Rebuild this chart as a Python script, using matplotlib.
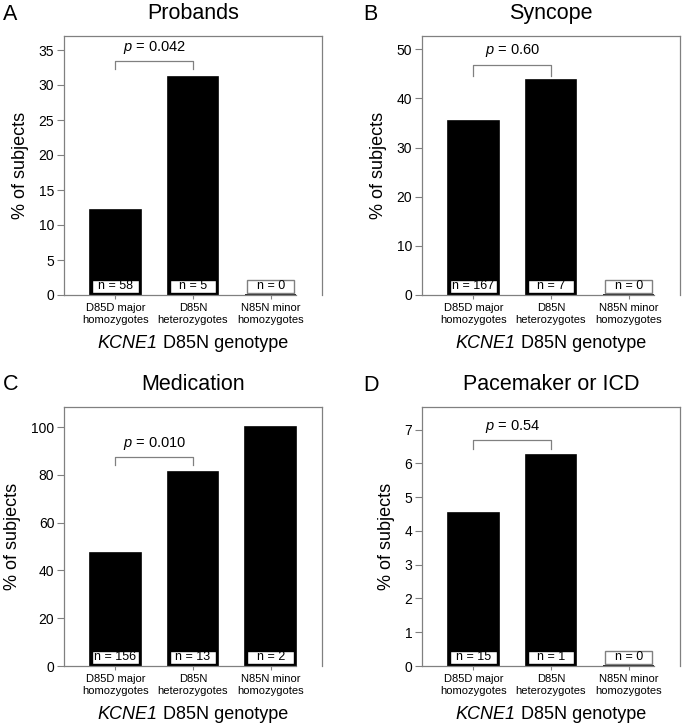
import matplotlib
matplotlib.use('Agg')
import matplotlib.pyplot as plt
from matplotlib.patches import Rectangle
import matplotlib.transforms as mtransforms

plt.rcParams['font.family'] = ['Liberation Sans', 'DejaVu Sans']
plt.rcParams['mathtext.fontset'] = 'custom'
plt.rcParams['mathtext.rm'] = 'Liberation Sans'
plt.rcParams['mathtext.it'] = 'Liberation Sans:italic'

GRAY = '#808080'

categories = ['D85D major\nhomozygotes', 'D85N\nheterozygotes', 'N85N minor\nhomozygotes']

titles = ['Probands', 'Syncope', 'Medication', 'Pacemaker or ICD']
letters = ['A', 'B', 'C', 'D']

probands = [12.1, 31.2, 0]
syncope = [35.5, 43.8, 0]
medication = [47.3, 81.1, 100]
pacemaker = [4.52, 6.25, 0]

n_probands = [58, 5, 0]
n_syncope = [167, 7, 0]
n_medication = [156, 13, 2]
n_pacemaker = [15, 1, 0]

p_values = ['0.042', '0.60', '0.010', '0.54']
# bracket top / bracket end heights (data units)
bracket_top = [33.4, 46.8, 87.4, 6.68]
bracket_end = [32.3, 44.6, 84.2, 6.44]

y_max = [37, 52.7, 108.4, 7.67]
y_step = [5, 10, 20, 1]
y_last = [35, 50, 100, 7]

values = [probands, syncope, medication, pacemaker]
counts = [n_probands, n_syncope, n_medication, n_pacemaker]

fig = plt.figure(figsize=(6.85, 7.23), dpi=100)
W, H = 685, 723
# axes positions in pixels: left, top
ax_pos = [(64, 36), (422, 36), (64, 407), (422, 407)]
ax_w, ax_h = 258, 259
letter_pos = [(3, 20), (363, 20), (3, 390), (363, 391)]

bw = 0.65
x = list(range(len(categories)))
renderer = fig.canvas.get_renderer()

for i in range(4):
    left, top = ax_pos[i]
    ax = fig.add_axes([left / W, (H - top - ax_h) / H, ax_w / W, ax_h / H])
    ax.bar(x, values[i], width=bw, color='black', edgecolor='black', linewidth=1.2, zorder=2)
    ax.set_xlim(-0.66, 2.66)
    ax.set_ylim(0, y_max[i])
    ax.set_yticks(range(0, y_last[i] + 1, y_step[i]))
    ax.set_xticks(x)
    ax.set_xticklabels(categories, fontsize=8, linespacing=1.15)
    ax.tick_params(axis='y', labelsize=10, length=5, width=0.8, color=GRAY, pad=2)
    ax.tick_params(axis='x', length=3, width=0.8, color=GRAY, pad=3)
    for s in ax.spines.values():
        s.set_color(GRAY)
        s.set_linewidth(0.9)
    ax.spines['bottom'].set_bounds(-0.66, 2 + bw / 2)
    ax.set_ylabel('% of subjects', fontsize=13, labelpad=7)
    ax.set_title(titles[i], fontsize=15.5, pad=12)

    # x label with italic gene name
    t1 = ax.text(0.5, -0.205, 'KCNE1', fontsize=13, style='italic',
                 transform=ax.transAxes, ha='left', va='baseline')
    t2 = ax.text(0.5, -0.205, ' D85N genotype', fontsize=13,
                 transform=ax.transAxes, ha='left', va='baseline')
    w1 = t1.get_window_extent(renderer).width
    w2 = t2.get_window_extent(renderer).width
    tot = w1 + w2
    t1.set_transform(ax.transAxes + mtransforms.Affine2D().translate(-tot / 2, 0))
    t2.set_transform(ax.transAxes + mtransforms.Affine2D().translate(-tot / 2 + w1, 0))

    # n boxes at the base of each bar
    trans = mtransforms.blended_transform_factory(ax.transData, ax.transAxes)
    for xi, v, n in zip(x, values[i], counts[i]):
        ec = 'black' if v > 0 else GRAY
        ax.add_patch(Rectangle((xi - 0.30, 0.008), 0.60, 0.05, transform=trans,
                               facecolor='white', edgecolor=ec, linewidth=1.0, zorder=3))
        ax.text(xi, 0.033, f'n = {n}', transform=trans, ha='center', va='center',
                fontsize=9, zorder=4)

    # significance bracket
    ax.plot([0, 0, 1, 1], [bracket_end[i], bracket_top[i], bracket_top[i], bracket_end[i]],
            color=GRAY, linewidth=0.9, clip_on=False)
    ax.annotate(r'$p$ = ' + p_values[i], xy=(0.5, bracket_top[i]), xytext=(0, 4),
                textcoords='offset points', ha='center', va='bottom', fontsize=10.5)

    lx, ly = letter_pos[i]
    fig.text(lx / W, 1 - ly / H, letters[i], fontsize=15.5, ha='left', va='baseline')

fig.savefig('out.png', dpi=100)
